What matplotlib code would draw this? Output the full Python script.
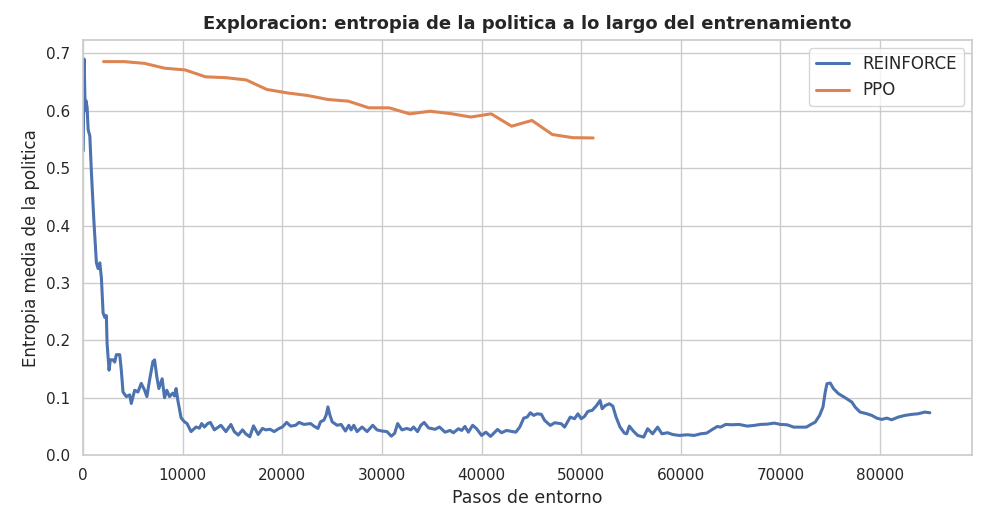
import numpy as np
import matplotlib
matplotlib.use("Agg")
import matplotlib.pyplot as plt
import seaborn as sns

# REINFORCE: entropia media (media movil) frente a pasos de entorno
pasos_reinforce = [
    0, 100, 200, 300, 400, 500, 670, 830, 1070, 1330, 1500, 1670, 1830, 2000,
    2170, 2330, 2400, 2600, 2730, 3000, 3170, 3330, 3670, 3830, 4000, 4330,
    4670, 4830, 5170, 5500, 5830, 6170, 6400, 6670, 7000, 7170, 7400, 7600,
    7930, 8170, 8400, 8670, 9000, 9170, 9330, 9500, 9830, 10170, 10430, 10830,
    11330, 11670, 11900, 12170, 12500, 12770, 13170, 13830, 14330, 14830,
    15170, 15570, 16000, 16330, 16730, 17100, 17570, 18000, 18330, 18770,
    19170, 19670, 20000, 20430, 20830, 21330, 21670, 22170, 22830, 23170,
    23570, 23830, 24170, 24400, 24570, 24770, 25000, 25500, 25900, 26330,
    26670, 26900, 27170, 27500, 28000, 28500, 29070, 29500, 30000, 30500,
    30930, 31270, 31570, 32000, 32500, 32900, 33170, 33570, 33900, 34230,
    34670, 35330, 35770, 36330, 36830, 37170, 37670, 38000, 38330, 38670,
    39100, 39500, 40000, 40430, 40900, 41600, 42000, 42500, 43430, 43830,
    44230, 44570, 44900, 45230, 45570, 46000, 46330, 46900, 47330, 48000,
    48330, 48900, 49330, 49670, 50000, 50330, 50670, 51100, 51500, 51900,
    52100, 52430, 52830, 53170, 53500, 53900, 54330, 54570, 54830, 55230,
    55670, 56270, 56670, 57170, 57670, 58100, 58670, 59170, 59830, 60670,
    61330, 62000, 62600, 63170, 63670, 64000, 64500, 65170, 65830, 66670,
    67330, 68000, 68670, 69400, 70000, 70670, 71330, 72000, 72600, 73000,
    73500, 73930, 74270, 74500, 74670, 75000, 75330, 75830, 76500, 77170,
    77500, 78000, 78670, 79170, 79670, 80170, 80670, 81170, 81830, 82500,
    83170, 83830, 84500, 85000,
]
entropia_reinforce = [
    0.530, 0.690, 0.600, 0.617, 0.605, 0.567, 0.556, 0.492, 0.410, 0.335,
    0.325, 0.335, 0.309, 0.248, 0.240, 0.243, 0.195, 0.148, 0.166, 0.166,
    0.162, 0.175, 0.175, 0.148, 0.110, 0.102, 0.105, 0.090, 0.113, 0.110,
    0.125, 0.113, 0.102, 0.131, 0.163, 0.166, 0.136, 0.116, 0.133, 0.100,
    0.113, 0.102, 0.108, 0.103, 0.116, 0.096, 0.065, 0.058, 0.055, 0.041,
    0.049, 0.047, 0.055, 0.049, 0.055, 0.057, 0.044, 0.052, 0.041, 0.0535,
    0.041, 0.035, 0.044, 0.037, 0.032, 0.051, 0.036, 0.0465, 0.044, 0.045,
    0.041, 0.0465, 0.049, 0.057, 0.0505, 0.052, 0.057, 0.0535, 0.055, 0.0505,
    0.0465, 0.058, 0.061, 0.070, 0.084, 0.070, 0.058, 0.052, 0.0535, 0.042,
    0.052, 0.044, 0.052, 0.041, 0.049, 0.041, 0.052, 0.044, 0.042, 0.041,
    0.033, 0.038, 0.055, 0.044, 0.0465, 0.044, 0.049, 0.041, 0.052, 0.057,
    0.0475, 0.045, 0.049, 0.040, 0.043, 0.039, 0.046, 0.043, 0.050, 0.040,
    0.052, 0.046, 0.0343, 0.040, 0.0326, 0.0448, 0.039, 0.043, 0.040, 0.0488,
    0.0645, 0.0663, 0.0738, 0.0692, 0.072, 0.071, 0.0605, 0.0517, 0.0564, 0.0547,
    0.0488, 0.0663, 0.0634, 0.072, 0.0634, 0.0674, 0.0762, 0.078, 0.0855, 0.0953,
    0.0808, 0.0866, 0.0895, 0.0855, 0.0663, 0.0488, 0.0384, 0.0372, 0.0506, 0.0419,
    0.0343, 0.0314, 0.046, 0.0372, 0.0488, 0.0372, 0.039, 0.036, 0.0343, 0.0355,
    0.0343, 0.0372, 0.0384, 0.0448, 0.050, 0.0488, 0.0535, 0.0529, 0.0535, 0.0506,
    0.0517, 0.0535, 0.054, 0.0558, 0.0535, 0.0529, 0.0488, 0.0488, 0.0488, 0.0529,
    0.0576, 0.0692, 0.0837, 0.110, 0.1244, 0.1256, 0.1157, 0.107, 0.100, 0.0924,
    0.0837, 0.075, 0.0721, 0.0692, 0.0645, 0.0622, 0.0645, 0.0616, 0.0663, 0.0692,
    0.071, 0.0721, 0.075, 0.0738,
]

# PPO: una medida por actualizacion
pasos_ppo = [
    2048, 4096, 6144, 8192, 10240, 12288, 14336, 16384, 18432, 20480,
    22528, 24576, 26624, 28672, 30720, 32768, 34816, 36864, 38912, 40960,
    43008, 45056, 47104, 49152, 51200,
]
entropia_ppo = [
    0.6855, 0.6855, 0.6825, 0.674, 0.671, 0.659, 0.6575, 0.6535, 0.637, 0.631,
    0.6265, 0.6195, 0.6166, 0.605, 0.605, 0.5945, 0.599, 0.595, 0.589, 0.5945,
    0.573, 0.583, 0.5585, 0.553, 0.5525,
]

sns.set_theme(style="whitegrid")

fig, ax = plt.subplots(figsize=(9.9, 5.28), dpi=100)
ax.plot(pasos_reinforce, entropia_reinforce, color="#4C72B0", lw=2.2, label="REINFORCE")
ax.plot(pasos_ppo, entropia_ppo, color="#DD8452", lw=2.2, label="PPO")

ax.set_xlim(left=0)
ax.set_ylim(bottom=0)
ax.set_title("Exploracion: entropia de la politica a lo largo del entrenamiento",
             fontsize=13, fontweight="bold", pad=8)
ax.set_xlabel("Pasos de entorno", fontsize=12.5)
ax.set_ylabel("Entropia media de la politica", fontsize=12)
ax.tick_params(labelsize=11)
ax.legend(loc="upper right", fontsize=12)

fig.subplots_adjust(left=0.084, right=0.982, top=0.924, bottom=0.138)
fig.savefig("out.png")
